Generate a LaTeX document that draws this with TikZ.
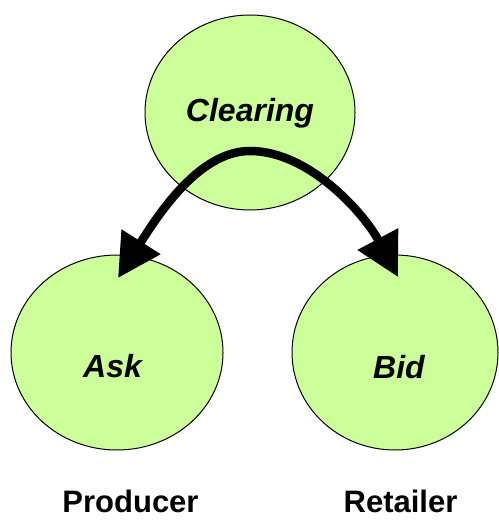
\documentclass[tikz,border=0pt]{standalone}
\usepackage{fontspec}
\setmainfont{Liberation Sans}
\usetikzlibrary{shapes.geometric,arrows.meta,calc}
\definecolor{bubble}{RGB}{204,255,153}
\begin{document}
\begin{tikzpicture}[x=1pt,y=-1pt,
  bubblenode/.style={ellipse,draw=black,line width=1pt,fill=bubble,inner sep=0pt},
  inlabel/.style={anchor=base,font=\fontsize{32}{36}\selectfont\bfseries\itshape,inner sep=0pt},
  outlabel/.style={anchor=base,font=\fontsize{31}{36}\selectfont\bfseries,inner sep=0pt},
  flow/.style={line width=8.5pt,{Triangle[length=43pt,width=44pt]}-{Triangle[length=43pt,width=44pt]}}]
\useasboundingbox (0,0) rectangle (498,521);
\node[bubblenode,minimum width=210pt,minimum height=195pt] (clearing) at (250,112.5) {};
\node[bubblenode,minimum width=212pt,minimum height=195pt] (ask) at (117,352.5) {};
\node[bubblenode,minimum width=206pt,minimum height=195pt] (bid) at (395,352.5) {};
\node[inlabel] (tclearing) at (250,122) {Clearing};
\node[inlabel] (task) at (112.5,377) {Ask};
\node[inlabel] (tbid) at (399,378) {Bid};
\node[outlabel] (tproducer) at (130.5,512) {Producer};
\node[outlabel] (tretailer) at (400.5,512) {Retailer};
\coordinate (peak) at ($(clearing.center)+(0,38.5)$);
\coordinate (asktip) at ($(ask.center)+(1,-74.5)$);
\coordinate (bidtip) at ($(bid.center)+(3,-75.5)$);
\draw[flow] (asktip) .. controls (160,212) and (200,151) .. (peak)
  .. controls (310,151) and (365,215) .. (bidtip);
\end{tikzpicture}
\end{document}
